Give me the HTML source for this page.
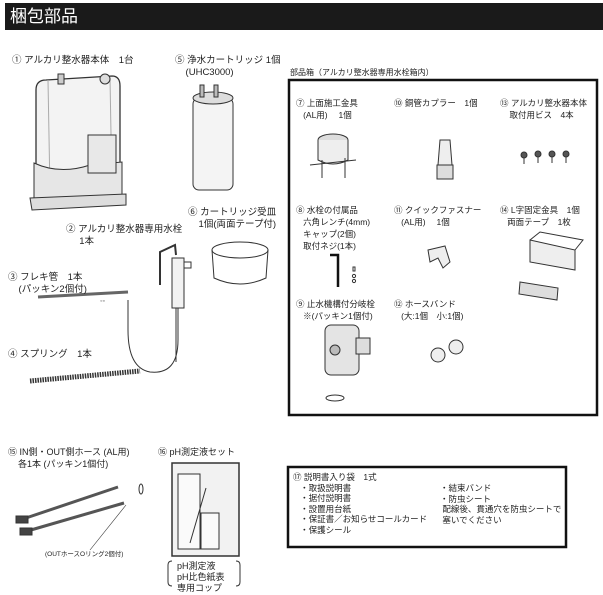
<!DOCTYPE html><html><head><meta charset="utf-8"><style>
body{margin:0;width:603px;height:595px;background:#fff;position:relative;overflow:hidden;font-family:"Liberation Sans","Noto Sans CJK JP",sans-serif;color:#222;font-size:9.5px;line-height:12px}
.t{position:absolute;white-space:nowrap}
svg{position:absolute;left:0;top:0}
</style></head><body>
<div style="position:absolute;left:5px;top:3px;width:598px;height:27px;background:#1a1a1a"></div>
<div class="t" style="left:10px;top:7px;color:#fff;font-size:17px;line-height:20px">梱包部品</div>
<svg width="603" height="595" fill="none" stroke="#333" stroke-width="1">
<!-- body unit -->
<path d="M36 90 Q36 80 46 80 L112 76 Q120 76 120 86 L120 195 L44 200 L36 195 Z" fill="#f3f3f3" stroke-width="1.3"/>
<path d="M48 80 L50 192 M110 78 L112 190" stroke="#aaa"/>
<path d="M34 163 Q60 175 90 165 L122 162 L122 200 L34 205 Z" fill="#e6e6e6"/>
<path d="M30 198 L126 194 L126 205 L32 210 Z" fill="#ddd"/>
<rect x="88" y="135" width="28" height="38" fill="#e8e8e8"/>
<circle cx="105" cy="79" r="5" fill="#ddd"/>
<rect x="58" y="74" width="6" height="10" fill="#ccc"/>
<!-- cartridge -->
<rect x="193" y="98" width="40" height="92" rx="6" fill="#f4f4f4"/>
<ellipse cx="213" cy="98" rx="20" ry="6" fill="#ddd"/>
<rect x="200" y="85" width="4" height="12" fill="#bbb"/><rect x="214" y="85" width="4" height="12" fill="#bbb"/>
<!-- tray -->
<ellipse cx="240" cy="250" rx="28" ry="8"/>
<path d="M212 250 L214 278 Q240 290 266 278 L268 250"/>
<!-- faucet -->
<path d="M160 285 L160 252 L175 245 L176 255" stroke-width="2"/>
<rect x="172" y="258" width="12" height="50" fill="#f2f2f2"/>
<rect x="184" y="262" width="7" height="6"/>
<path d="M178 308 L178 340 Q178 375 150 372 Q128 368 128 330 L128 300" />
<path d="M176 308 L176 362"/>
<!-- flex tube -->
<line x1="38" y1="297" x2="128" y2="292" stroke-width="3" stroke="#666"/>
<text x="100" y="303" font-size="7" fill="#555" stroke="none">◦◦</text>
<!-- spring -->
<path d="M30 381 L140 371" stroke-width="5" stroke="#333" stroke-dasharray="1.5 1"/>
<!-- parts box -->
<rect x="289" y="80" width="308" height="335" stroke="#111" stroke-width="2.5"/>
<!-- 7 -->
<ellipse cx="333" cy="140" rx="15" ry="6" fill="#ddd"/><path d="M318 140 L318 160 Q333 168 348 160 L348 140" fill="#eee"/><path d="M310 165 L356 160 M322 160 L322 178 M345 158 L345 178"/>
<!-- 10 -->
<path d="M440 140 L450 140 L452 165 L438 165 Z" fill="#eee"/><rect x="437" y="165" width="16" height="14" fill="#ddd"/>
<!-- 13 -->
<g fill="#555"><circle cx="524" cy="155" r="3"/><circle cx="538" cy="154" r="3"/><circle cx="552" cy="154" r="3"/><circle cx="566" cy="154" r="3"/></g>
<path d="M524 158v6M538 157v6M552 157v6M566 157v6"/>
<!-- 8 -->
<path d="M330 255 L338 255 L338 287" stroke-width="2.5" stroke="#111"/>
<circle cx="354" cy="276" r="1.6"/><circle cx="354" cy="281" r="1.6"/><rect x="353" y="267" width="2" height="4"/>
<!-- 11 -->
<path d="M428 250 L445 246 L450 262 L443 268 L438 258 L430 262 Z" fill="#eee"/>
<!-- 14 -->
<path d="M530 240 L575 250 L575 270 L530 262 Z" fill="#eee"/><path d="M530 240 L540 232 L583 240 L575 250"/>
<path d="M520 282 L558 288 L557 300 L519 294 Z" fill="#ddd"/>
<!-- 9 -->
<rect x="325" y="325" width="34" height="50" rx="6" fill="#e4e4e4"/><rect x="356" y="338" width="14" height="16" fill="#ddd"/><circle cx="335" cy="350" r="5" fill="#bbb"/><ellipse cx="335" cy="398" rx="9" ry="3"/>
<!-- 12 -->
<circle cx="438" cy="355" r="7" fill="#eee"/><circle cx="456" cy="347" r="7" fill="#eee"/>
<!-- hoses -->
<line x1="20" y1="520" x2="118" y2="487" stroke-width="3" stroke="#555"/>
<line x1="24" y1="532" x2="124" y2="503" stroke-width="3" stroke="#555"/>
<rect x="16" y="516" width="12" height="7" fill="#444"/><rect x="20" y="528" width="12" height="7" fill="#444"/>
<ellipse cx="141" cy="489" rx="2" ry="5"/>
<line x1="90" y1="550" x2="126" y2="505" stroke-width="0.6"/>
<!-- pH set -->
<rect x="172" y="463" width="67" height="93" fill="#f2f2f2" stroke-width="1.5"/>
<rect x="178" y="474" width="22" height="75" fill="#fafafa"/><rect x="201" y="513" width="18" height="36" fill="#fafafa"/>
<line x1="190" y1="543" x2="206" y2="488"/>
<path d="M172 561 q-4 0 -4 4 v17 q0 4 4 4 M236 561 q4 0 4 4 v17 q0 4 -4 4"/>
<!-- box 17 -->
<rect x="288" y="467" width="278" height="80" stroke="#111" stroke-width="2.5"/>
</svg>
<div class="t" style="left:12px;top:55px">① アルカリ整水器本体　1台</div>
<div class="t" style="left:175px;top:55px">⑤ 浄水カートリッジ 1個<br>&nbsp;&nbsp;&nbsp;&nbsp;(UHC3000)</div>
<div class="t" style="left:290px;top:67px;font-size:8px">部品箱（アルカリ整水器専用水栓箱内）</div>
<div class="t" style="left:188px;top:207px">⑥ カートリッジ受皿<br>&nbsp;&nbsp;&nbsp;&nbsp;1個(両面テープ付)</div>
<div class="t" style="left:66px;top:224px">② アルカリ整水器専用水栓<br>&nbsp;&nbsp;&nbsp;&nbsp;&nbsp;1本</div>
<div class="t" style="left:8px;top:272px">③ フレキ管　1本<br>&nbsp;&nbsp;&nbsp;&nbsp;(パッキン2個付)</div>
<div class="t" style="left:8px;top:349px">④ スプリング　1本</div>
<div class="t" style="left:296px;top:97px;font-size:8.5px">⑦ 上面施工金具<br>&nbsp;&nbsp;&nbsp;(AL用)　 1個</div>
<div class="t" style="left:394px;top:97px;font-size:8.5px">⑩ 銅管カプラー　1個</div>
<div class="t" style="left:500px;top:97px;font-size:8.5px">⑬ アルカリ整水器本体<br>&nbsp;&nbsp;&nbsp;&nbsp;取付用ビス　4本</div>
<div class="t" style="left:296px;top:204px;font-size:8.5px">⑧ 水栓の付属品<br>&nbsp;&nbsp;&nbsp;六角レンチ(4mm)<br>&nbsp;&nbsp;&nbsp;キャップ(2個)<br>&nbsp;&nbsp;&nbsp;取付ネジ(1本)</div>
<div class="t" style="left:394px;top:204px;font-size:8.5px">⑪ クイックファスナー<br>&nbsp;&nbsp;&nbsp;(AL用)　 1個</div>
<div class="t" style="left:500px;top:204px;font-size:8.5px">⑭ L字固定金具　1個<br>&nbsp;&nbsp;&nbsp;両面テープ　1枚</div>
<div class="t" style="left:296px;top:298px;font-size:8.5px">⑨ 止水機構付分岐栓<br>&nbsp;&nbsp;&nbsp;※(パッキン1個付)</div>
<div class="t" style="left:394px;top:298px;font-size:8.5px">⑫ ホースバンド<br>&nbsp;&nbsp;&nbsp;(大:1個　小:1個)</div>
<div class="t" style="left:8px;top:446px;font-size:9px">⑮ IN側・OUT側ホース (AL用)<br>&nbsp;&nbsp;&nbsp;&nbsp;各1本 (パッキン1個付)</div>
<div class="t" style="left:45px;top:549px;font-size:6.5px">(OUTホースOリング2個付)</div>
<div class="t" style="left:158px;top:446px;font-size:9px">⑯ pH測定液セット</div>
<div class="t" style="left:177px;top:561px;font-size:9px;line-height:11px">pH測定液<br>pH比色紙表<br>専用コップ</div>
<div class="t" style="left:293px;top:472px;font-size:8.5px;line-height:10.6px">⑰ 説明書入り袋　1式<br>&nbsp;&nbsp;&nbsp;・取扱説明書<br>&nbsp;&nbsp;&nbsp;・据付説明書<br>&nbsp;&nbsp;&nbsp;・設置用台紙<br>&nbsp;&nbsp;&nbsp;・保証書／お知らせコールカード<br>&nbsp;&nbsp;&nbsp;・保護シール</div>
<div class="t" style="left:440px;top:483px;font-size:8.5px;line-height:10.6px">・結束バンド<br>・防虫シート<br>&nbsp;配線後、貫通穴を防虫シートで<br>&nbsp;塞いでください</div>
</body></html>
